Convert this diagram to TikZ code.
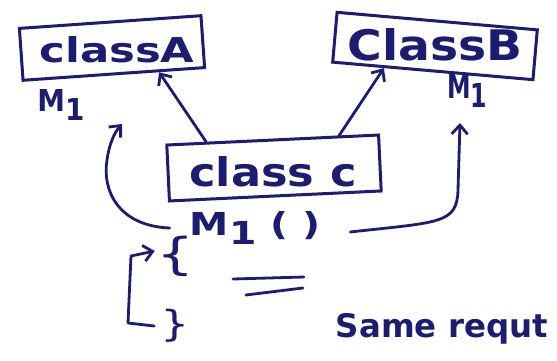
\documentclass[tikz,border=0pt]{standalone}
\usepackage{fontspec}
\setmainfont{DejaVu Sans}
\usepackage{graphicx}
\usetikzlibrary{arrows.meta,calc}
\definecolor{ink}{RGB}{28,28,112}
% stretch a handwritten-style word to a given width and height
\newcommand{\inkfit}[3]{\resizebox{#1}{#2}{\bfseries #3}}
\begin{document}
\begin{tikzpicture}[x=1pt,y=-1pt,
  classbox/.style={draw=ink,line width=3pt,inner sep=0pt},
  word/.style={text=ink,inner sep=0pt},
  pen/.style={draw=ink,line width=2.8pt,line cap=round,line join=round},
  tip/.style={-{Straight Barb[length=9pt,width=16pt,line width=2.8pt]}}]
\useasboundingbox[fill=white] (0,0) rectangle (557,361);

% class boxes
\node[classbox,minimum width=182pt,minimum height=52pt,rotate=4] (A) at (112,48) {};
\node[classbox,minimum width=201pt,minimum height=50pt,rotate=-5] (B) at (435,46) {};
\node[classbox,minimum width=212pt,minimum height=56pt,rotate=2.7] (C) at (274,168) {};

% class names
\node[word] (Atxt) at (117,50) {\inkfit{155pt}{26pt}{classA}};
\node[word] (Btxt) at (435,45) {\inkfit{175pt}{32pt}{ClassB}};
\node[word] (Ctxt) at (273,172) {\inkfit{167pt}{30pt}{class c}};

% method labels
\node[word] (mA) at (61,105) {\inkfit{47pt}{22pt}{M\raisebox{-3pt}{1}}};
\node[word] (mB) at (467,91) {\inkfit{40pt}{24pt}{M\raisebox{-3pt}{1}}};
\node[word] (mC) at (255,228) {\inkfit{130pt}{24pt}{M\raisebox{-3pt}{1} ( )}};

% body braces
\node[word] (open) at (176,256) {\scalebox{6}[4.4]{\{}};
\node[word] (close) at (175,326) {\scalebox{4.6}[3.6]{\}}};

\node[word,anchor=base] (same) at (442,337) {\inkfit{212pt}{!}{Same requt}};

% inheritance arrows
\coordinate (cA) at ($(C.north west)!0.19!(C.north east)$);
\coordinate (aC) at ($(A.south west)!0.745!(A.south east)$);
\coordinate (cB) at ($(C.north west)!0.81!(C.north east)$);
\coordinate (bC) at ($(B.south west)!0.26!(B.south east)$);
\draw[pen,tip] (cA) -- (aC);
\draw[pen,tip] (cB) -- (bC);

% calls going up to M1 of each parent
\coordinate (lstart) at ($(mC.west)+(-20,0)$);
\coordinate (lend) at (122,124);
\draw[pen,tip] (lstart) .. controls (118,226) and (102,190) .. (107,160)
  .. controls (109,145) and (114,133) .. (lend);
\coordinate (rstart) at ($(mC.east)+(30,4)$);
\coordinate (rend) at (460,123);
\draw[pen,tip] (rstart) .. controls (440,222) and (457,224) .. (458,190) -- (rend);

% bracket into the opening brace
\coordinate (bk) at ($(close.west)+(-6,0)$);
\coordinate (bo) at ($(open.west)+(-2,-5)$);
\draw[pen,tip] (bk) -- (128,323) -- (131,256) -- (bo);

% equals sign
\draw[pen] (233,279) -- (304,277);
\draw[pen] (246,295) -- (303,288);
\end{tikzpicture}
\end{document}
